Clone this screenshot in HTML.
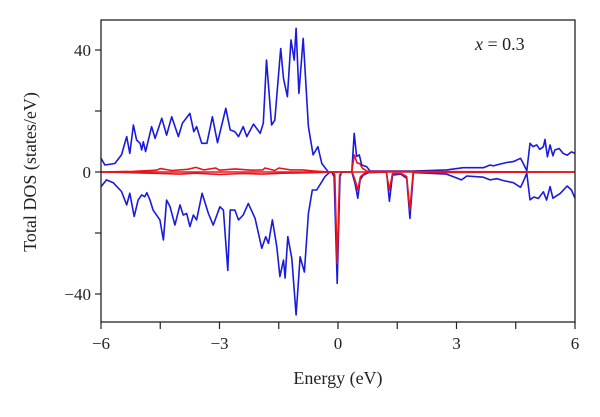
<!DOCTYPE html>
<html><head><meta charset="utf-8"><style>
body{margin:0;background:#fff}
svg text{font-family:"Liberation Serif",serif;fill:#222}
</style></head><body>
<svg width="600" height="412" viewBox="0 0 600 412">
<g id="plot"></g>
<script>
const upE=[-6.0,-5.9,-5.65,-5.48,-5.35,-5.27,-5.18,-5.10,-5.01,-4.97,-4.93,-4.87,-4.72,-4.63,-4.46,-4.34,-4.21,-4.04,-3.94,-3.75,-3.65,-3.58,-3.45,-3.32,-3.18,-3.05,-2.84,-2.73,-2.61,-2.52,-2.40,-2.31,-2.14,-1.97,-1.89,-1.81,-1.68,-1.60,-1.45,-1.38,-1.28,-1.19,-1.11,-1.06,-0.99,-0.88,-0.75,-0.63,-0.51,-0.41,-0.25,-0.20,0.35,0.41,0.47,0.54,0.60,0.73,0.81,1.91,2.75,3.17,3.68,3.85,3.93,4.10,4.27,4.44,4.62,4.69,4.78,4.86,4.94,5.03,5.11,5.20,5.24,5.30,5.37,5.44,5.49,5.60,5.70,5.80,5.91,6.0];
const upV=[4.5,2.3,2.8,5.6,11.6,6.1,15.4,10.5,9.4,7.2,9.9,6.7,14.9,11.0,17.6,12.1,18.1,11.6,16.0,19.2,13.2,14.9,9.4,9.4,18.1,9.6,20.9,13.8,13.2,11.6,14.9,11.6,15.7,12.7,16.0,36.7,15.4,17.0,40.5,30.7,24.7,43.3,36.7,47.1,25.8,43.8,14.9,5.6,8.3,2.8,0.1,0,0,12.7,5.1,5.6,2.3,1.7,0.3,0.3,0.7,1.4,1.4,2.3,2.0,2.6,3.1,3.4,4.5,2.8,0.4,9.4,8.3,8.9,7.4,8.3,10.7,5.0,8.9,5.3,7.2,7.7,6.1,5.5,6.6,6.1];
const dnE=[-6.0,-5.86,-5.69,-5.48,-5.35,-5.27,-5.16,-5.06,-4.97,-4.89,-4.84,-4.76,-4.68,-4.51,-4.42,-4.34,-4.25,-4.13,-4.0,-3.92,-3.83,-3.75,-3.66,-3.58,-3.44,-3.28,-3.16,-2.99,-2.90,-2.79,-2.73,-2.61,-2.52,-2.40,-2.27,-2.10,-1.93,-1.83,-1.76,-1.66,-1.55,-1.47,-1.38,-1.34,-1.27,-1.17,-1.06,-0.96,-0.85,-0.75,-0.65,-0.54,-0.33,-0.22,-0.16,-0.10,-0.02,0.05,0.09,0.35,0.43,0.50,0.56,0.64,0.77,1.23,1.30,1.38,1.59,1.74,1.82,1.91,2.75,3.13,3.26,3.68,3.85,4.02,4.18,4.44,4.62,4.69,4.78,4.86,4.96,5.07,5.20,5.28,5.37,5.44,5.63,5.80,5.91,6.0];
const dnV=[-4.8,-2.6,-3.5,-6.4,-10.8,-7.0,-14.6,-9.2,-7.5,-8.1,-6.8,-9.2,-12.5,-15.7,-22.3,-9.2,-11.4,-17.4,-10.8,-14.1,-13.6,-17.9,-14.1,-15.7,-7.0,-13.6,-17.4,-11.4,-12.5,-32.3,-12.5,-12.5,-15.7,-14.1,-10.3,-15.2,-25.0,-21.2,-23.4,-15.7,-24.5,-34.3,-28.9,-34.8,-21.2,-28.3,-46.9,-27.8,-32.8,-13.6,-5.9,-5.9,-1.5,-0.2,0,-1.5,-36.5,-1.5,0,0,-3.7,-8.6,-2.6,-1.0,-0.2,0,-9.6,-1.0,-0.7,-2.1,-15.2,-0.2,-0.7,-2.6,-1.3,-1.7,-2.6,-2.2,-2.8,-3.5,-5.0,-3.1,-0.4,-9.1,-8.2,-8.7,-6.5,-9.2,-4.8,-8.6,-7.0,-4.6,-5.9,-8.6];
const redUpE=[-6,-5.2,-4.6,-4.5,-4.2,-3.8,-3.6,-3.4,-3.1,-3.0,-2.6,-2.2,-1.9,-1.85,-1.6,-1.5,-1.2,-0.9,-0.6,-0.2,0.35,0.41,0.48,0.55,0.62,0.75,6];
const redUpV=[0,0.2,0.6,1.1,0.5,0.9,1.5,0.7,1.3,0.6,1.0,0.6,0.7,1.3,0.5,1.3,0.7,0.7,0.3,0,0,5.6,3.0,2.8,1.2,0.2,0];
const redDnE=[-6,-5.0,-4.5,-4.0,-3.6,-3.0,-2.4,-1.9,-1.4,-1.0,-0.5,-0.12,-0.08,-0.02,0.04,0.09,0.36,0.44,0.5,0.57,0.7,1.22,1.3,1.38,1.6,1.74,1.82,1.9,6];
const redDnV=[0,-0.3,-0.5,-0.7,-0.4,-0.8,-0.5,-0.7,-0.4,-0.3,-0.2,0,-1.0,-30,-1.0,0,0,-3.0,-5.9,-1.5,-0.2,0,-5.9,-0.5,-0.5,-1.5,-12.5,-0.2,0];
const xTicks=[-6,-3,0,3,6];
const yTicks=[40,0,-40];
const L=101,R=575,T=20,B=322;
const xS=e=>338+e*(R-L)/12;
const yS=v=>172-v*3.05;
const NS="http://www.w3.org/2000/svg";
const g=document.getElementById('plot');
function mk(t,a){const e=document.createElementNS(NS,t);for(const k in a)e.setAttribute(k,a[k]);g.appendChild(e);return e;}
function path(E,V,color,name){
  const d=E.map((e,i)=>(i?'L':'M')+xS(e).toFixed(1)+','+yS(V[i]).toFixed(1)).join('');
  const p=mk('path',{d:d,fill:'none',stroke:color,'stroke-width':1.6,'stroke-linejoin':'round'});
  
  
}
path(upE,upV,'#1a1adf','spin-up-total-dos');
path(dnE,dnV,'#1a1adf','spin-down-total-dos');
const z=mk('line',{x1:L,x2:R,y1:yS(0),y2:yS(0),stroke:'#e8141c','stroke-width':1.6});


path(redUpE,redUpV,'#e8141c','partial-dos-up');
path(redDnE,redDnV,'#e8141c','partial-dos-down');
const fr=mk('rect',{x:L,y:T,width:R-L,height:B-T,fill:'none',stroke:'#222','stroke-width':1.3});


for(let e=-6;e<=6;e+=1.5){mk('line',{x1:xS(e),x2:xS(e),y1:B,y2:B+7,stroke:'#222','stroke-width':1.2});}
xTicks.forEach(e=>{const t=mk('text',{x:xS(e),y:349,'text-anchor':'middle','font-size':17});t.textContent=(e<0?'\u2212'+(-e):e);

});
for(let v=-40;v<=40;v+=20){mk('line',{x1:L-6,x2:L,y1:yS(v),y2:yS(v),stroke:'#222','stroke-width':1.2});}
yTicks.forEach(v=>{const t=mk('text',{x:L-10,y:yS(v)+6,'text-anchor':'end','font-size':17});t.textContent=(v<0?'\u2212'+(-v):v);

});
</script>
<text x="338" y="384" text-anchor="middle" font-size="18">Energy (eV)</text>
<text transform="translate(36,172) rotate(-90)" text-anchor="middle" font-size="18">Total DOS (states/eV)</text>
<text x="475" y="50" font-size="18"><tspan font-style="italic">x</tspan> = 0.3</text>
</svg>
</body></html>
